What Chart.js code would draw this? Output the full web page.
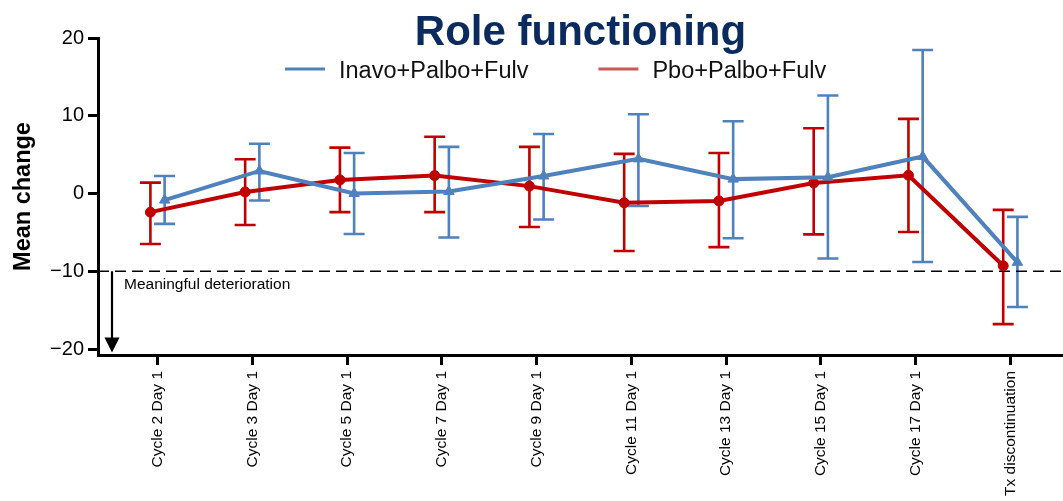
<!DOCTYPE html>
<html>
<head>
<meta charset="utf-8">
<script src="https://cdn.jsdelivr.net/npm/chart.js@4.4.1/dist/chart.umd.min.js"></script>
<style>
  html, body { margin: 0; padding: 0; background: #ffffff; }
  #wrap { width: 1063px; height: 501px; }
</style>
</head>
<body>
<div id="wrap"><canvas id="chart" width="1063" height="501"></canvas></div>
<script>
// Visits along the x axis
const categories = [
  'Cycle 2 Day 1', 'Cycle 3 Day 1', 'Cycle 5 Day 1', 'Cycle 7 Day 1', 'Cycle 9 Day 1',
  'Cycle 11 Day 1', 'Cycle 13 Day 1', 'Cycle 15 Day 1', 'Cycle 17 Day 1', 'Tx discontinuation'
];

// Inavo+Palbo+Fulv: mean change from baseline and 95% CI
const inavoMean  = [-0.85, 2.9, 0.0, 0.25, 2.25, 4.45, 1.85, 2.1, 4.75, -8.85];
const inavoLower = [-3.9, -0.9, -5.2, -5.65, -3.35, -1.6, -5.75, -8.35, -8.8, -14.6];
const inavoUpper = [2.25, 6.4, 5.2, 6.0, 7.65, 10.2, 9.3, 12.6, 18.45, -3.0];

// Pbo+Palbo+Fulv: mean change from baseline and 95% CI
const pboMean  = [-2.4, 0.2, 1.75, 2.3, 0.95, -1.2, -0.95, 1.35, 2.35, -9.3];
const pboLower = [-6.5, -4.05, -2.4, -2.4, -4.3, -7.4, -6.9, -5.25, -4.95, -16.8];
const pboUpper = [1.4, 4.4, 5.9, 7.3, 6.0, 5.1, 5.2, 8.4, 9.6, -2.1];

const yTickValues = [-20, -10, 0, 10, 20];
const deteriorationThreshold = -10;
const deteriorationLabel = 'Meaningful deterioration';

const FONT = '"Liberation Sans", Arial, Helvetica, sans-serif';
const BLUE = '#4f81bd';
const RED = '#c00000';
const LEGEND_COLORS = ['#4f81bd', '#c55a57'];

// small horizontal dodge so the two groups do not overlap at each visit
const DODGE = 0.075;

function points(mean, lower, upper, shift) {
  return mean.map((m, i) => ({ x: i + shift, y: m, lo: lower[i], hi: upper[i] }));
}

// Whiskers with caps for each point's confidence interval
const errorBars = {
  id: 'errorBars',
  beforeDatasetsDraw(chart) {
    const { ctx, scales: { x, y } } = chart;
    ctx.save();
    for (let d = chart.data.datasets.length - 1; d >= 0; d--) {
      const ds = chart.data.datasets[d];
      ctx.strokeStyle = ds.borderColor;
      ctx.lineWidth = 2.6;
      ds.data.forEach(p => {
        const px = x.getPixelForValue(p.x);
        const top = y.getPixelForValue(p.hi);
        const bot = y.getPixelForValue(p.lo);
        const cap = 10.5;
        ctx.beginPath();
        ctx.moveTo(px, top); ctx.lineTo(px, bot);
        ctx.moveTo(px - cap, top); ctx.lineTo(px + cap, top);
        ctx.moveTo(px - cap, bot); ctx.lineTo(px + cap, bot);
        ctx.stroke();
      });
    }
    ctx.restore();
  }
};

// Dashed threshold line with downward arrow and its label
const threshold = {
  id: 'threshold',
  beforeDatasetsDraw(chart) {
    const { ctx, chartArea, scales: { y } } = chart;
    const ty = y.getPixelForValue(deteriorationThreshold);
    ctx.save();
    ctx.strokeStyle = '#000';
    ctx.lineWidth = 1.4;
    ctx.setLineDash([11, 6]);
    ctx.beginPath();
    ctx.moveTo(chartArea.left, ty);
    ctx.lineTo(chartArea.right, ty);
    ctx.stroke();
    ctx.setLineDash([]);

    const ax = chartArea.left + 14;
    const tip = y.getPixelForValue(-20.45);
    ctx.lineWidth = 2.2;
    ctx.beginPath();
    ctx.moveTo(ax, ty);
    ctx.lineTo(ax, tip - 12);
    ctx.stroke();
    ctx.fillStyle = '#000';
    ctx.beginPath();
    ctx.moveTo(ax - 7.5, tip - 15);
    ctx.lineTo(ax + 7.5, tip - 15);
    ctx.lineTo(ax, tip);
    ctx.closePath();
    ctx.fill();

    ctx.font = '15.5px ' + FONT;
    ctx.textAlign = 'left';
    ctx.textBaseline = 'alphabetic';
    ctx.fillText(deteriorationLabel, chartArea.left + 26, ty + 18);
    ctx.restore();
  }
};

// Line-sample legend laid over the top of the plot
const lineLegend = {
  id: 'lineLegend',
  afterDraw(chart) {
    const { ctx, chartArea } = chart;
    ctx.save();
    ctx.font = '23.5px ' + FONT;
    ctx.textBaseline = 'alphabetic';
    ctx.textAlign = 'left';
    let x = chartArea.left + 187;
    const lineY = 69;
    chart.data.datasets.forEach((ds, i) => {
      ctx.strokeStyle = LEGEND_COLORS[i];
      ctx.lineWidth = 3;
      ctx.beginPath();
      ctx.moveTo(x, lineY);
      ctx.lineTo(x + 40, lineY);
      ctx.stroke();
      ctx.fillStyle = '#111';
      ctx.fillText(ds.label, x + 54, 78);
      x += 54 + ctx.measureText(ds.label).width + 70;
    });
    ctx.restore();
  }
};

new Chart(document.getElementById('chart'), {
  type: 'line',
  data: {
    datasets: [
      {
        label: 'Inavo+Palbo+Fulv',
        data: points(inavoMean, inavoLower, inavoUpper, DODGE),
        borderColor: BLUE,
        backgroundColor: BLUE,
        borderWidth: 4,
        pointStyle: 'triangle',
        pointRadius: 6,
        pointBorderWidth: 1,
        tension: 0
      },
      {
        label: 'Pbo+Palbo+Fulv',
        data: points(pboMean, pboLower, pboUpper, -DODGE),
        borderColor: RED,
        backgroundColor: RED,
        borderWidth: 4,
        pointStyle: 'circle',
        pointRadius: 5,
        pointBorderWidth: 1,
        tension: 0
      }
    ]
  },
  options: {
    responsive: false,
    devicePixelRatio: 1,
    animation: false,
    layout: { padding: 0, autoPadding: false },
    plugins: {
      legend: { display: false },
      tooltip: { enabled: false },
      title: {
        display: true,
        text: 'Role functioning',
        color: '#0b2a5e',
        fullSize: false,
        font: { family: FONT, size: 42, weight: 'bold', lineHeight: 1.2 },
        padding: { top: 8, bottom: -20.4 }
      }
    },
    scales: {
      x: {
        type: 'linear',
        min: -0.628,
        max: 9.556,
        bounds: 'data',
        afterBuildTicks: s => { s.ticks = categories.map((c, i) => ({ value: i })); },
        afterFit: s => { s.height = 146; s.paddingLeft = 0; s.paddingRight = 0; },
        ticks: {
          autoSkip: false,
          maxRotation: 90,
          minRotation: 90,
          padding: 6,
          color: '#000',
          font: { family: FONT, size: 15.5 },
          callback: v => categories[v]
        },
        grid: {
          display: true,
          drawOnChartArea: false,
          drawTicks: true,
          tickLength: 10,
          tickWidth: 3,
          tickColor: '#000'
        },
        border: { display: true, color: '#000', width: 3 }
      },
      y: {
        type: 'linear',
        min: -20.77,
        max: 20,
        afterBuildTicks: s => { s.ticks = yTickValues.map(v => ({ value: v })); },
        afterFit: s => { s.width = 98; s.paddingTop = 0; s.paddingBottom = 0; },
        ticks: {
          padding: 4,
          color: '#000',
          font: { family: FONT, size: 20 },
          callback: v => (v < 0 ? '\u2212' + Math.abs(v) : String(v))
        },
        grid: {
          display: true,
          drawOnChartArea: false,
          drawTicks: true,
          tickLength: 10,
          tickWidth: 3,
          tickColor: '#000'
        },
        border: { display: true, color: '#000', width: 3 },
        title: {
          display: true,
          text: 'Mean change',
          color: '#000',
          font: { family: FONT, size: 23.5, weight: 'bold', lineHeight: 1.2 },
          padding: { top: 9, bottom: 0 }
        }
      }
    }
  },
  plugins: [errorBars, threshold, lineLegend]
});
</script>
</body>
</html>
